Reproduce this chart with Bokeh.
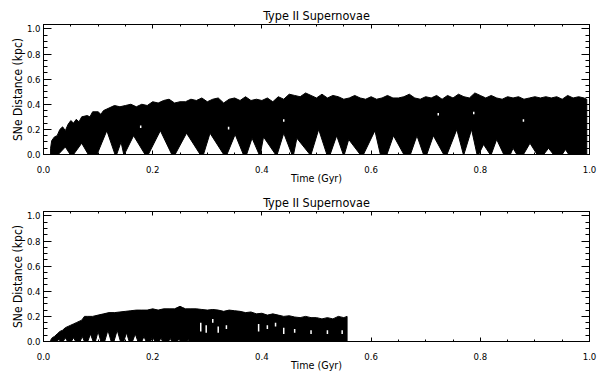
from bokeh.plotting import figure
from bokeh.layouts import column
from bokeh.models import Range1d, LinearAxis, SingleIntervalTicker, PrintfTickFormatter
from bokeh.embed import file_html
from bokeh.resources import INLINE

# ---------------- data ----------------
title_text = "Type II Supernovae"
x_label = "Time (Gyr)"
y_label = "SNe Distance (kpc)"

# Upper envelope of the dense SNe cloud, run 1 (Time in Gyr, distance in kpc)
top_t = [0.013, 0.015, 0.02, 0.025, 0.03, 0.035, 0.04, 0.045, 0.05, 0.055, 0.06, 0.065,
         0.07, 0.08, 0.085, 0.09, 0.1, 0.105, 0.11, 0.12, 0.13, 0.14, 0.15, 0.16, 0.17,
         0.18, 0.19, 0.2, 0.21, 0.22, 0.23, 0.24, 0.25, 0.26, 0.27, 0.28, 0.29, 0.3,
         0.31, 0.32, 0.33, 0.34, 0.35, 0.36, 0.37, 0.38, 0.39, 0.4, 0.41, 0.42, 0.43,
         0.44, 0.45, 0.46, 0.47, 0.48, 0.49, 0.5, 0.51, 0.52, 0.53, 0.54, 0.55, 0.56,
         0.57, 0.58, 0.59, 0.6, 0.61, 0.62, 0.63, 0.64, 0.65, 0.66, 0.67, 0.68, 0.69,
         0.7, 0.71, 0.72, 0.73, 0.74, 0.75, 0.76, 0.77, 0.78, 0.79, 0.8, 0.81, 0.82,
         0.83, 0.84, 0.85, 0.86, 0.87, 0.88, 0.89, 0.9, 0.91, 0.92, 0.93, 0.94, 0.95,
         0.96, 0.97, 0.98, 0.99, 0.995]
top_hi = [0.05, 0.11, 0.14, 0.15, 0.2, 0.22, 0.19, 0.24, 0.27, 0.25, 0.28, 0.26,
          0.3, 0.31, 0.3, 0.34, 0.34, 0.32, 0.35, 0.37, 0.39, 0.38, 0.39, 0.4, 0.38,
          0.4, 0.39, 0.42, 0.41, 0.43, 0.44, 0.41, 0.42, 0.42, 0.44, 0.43, 0.45, 0.42,
          0.44, 0.45, 0.41, 0.44, 0.45, 0.43, 0.46, 0.43, 0.44, 0.43, 0.45, 0.42, 0.46,
          0.44, 0.48, 0.47, 0.46, 0.49, 0.47, 0.45, 0.48, 0.45, 0.47, 0.46, 0.44, 0.45,
          0.47, 0.45, 0.44, 0.46, 0.44, 0.45, 0.47, 0.45, 0.45, 0.46, 0.48, 0.45, 0.44,
          0.46, 0.45, 0.47, 0.44, 0.47, 0.45, 0.48, 0.46, 0.45, 0.49, 0.47, 0.45, 0.47,
          0.45, 0.44, 0.46, 0.45, 0.46, 0.44, 0.45, 0.46, 0.45, 0.46, 0.45, 0.46, 0.44,
          0.47, 0.45, 0.46, 0.45, 0.44]
# Empty gaps rising from the bottom of the cloud, run 1:
# left foot (Gyr), tip (Gyr), right foot (Gyr), tip height (kpc)
top_gap_l = [0.027, 0.055, 0.098, 0.134, 0.148, 0.192, 0.241, 0.293, 0.336, 0.372,
             0.397, 0.428, 0.458, 0.49, 0.525, 0.551, 0.586, 0.629, 0.672, 0.702,
             0.739, 0.77, 0.797, 0.82, 0.855, 0.879, 0.916, 0.95]
top_gap_p = [0.04, 0.07, 0.116, 0.142, 0.165, 0.214, 0.262, 0.305, 0.351, 0.382,
             0.403, 0.44, 0.464, 0.504, 0.537, 0.559, 0.607, 0.641, 0.684, 0.714,
             0.757, 0.784, 0.806, 0.83, 0.86, 0.891, 0.925, 0.956]
top_gap_r = [0.049, 0.082, 0.131, 0.147, 0.186, 0.235, 0.287, 0.33, 0.366, 0.395,
             0.425, 0.455, 0.488, 0.519, 0.549, 0.58, 0.617, 0.66, 0.696, 0.733,
             0.769, 0.794, 0.818, 0.843, 0.867, 0.904, 0.934, 0.962]
top_gap_h = [0.06, 0.09, 0.19, 0.1, 0.15, 0.19, 0.17, 0.17, 0.16, 0.13,
             0.14, 0.17, 0.13, 0.2, 0.15, 0.12, 0.19, 0.15, 0.15, 0.15,
             0.2, 0.2, 0.08, 0.12, 0.05, 0.09, 0.05, 0.04]
# small holes inside the cloud, run 1: time, from, to
top_hole_t = [0.178, 0.339, 0.44, 0.723, 0.788, 0.879]
top_hole_a = [0.21, 0.2, 0.26, 0.31, 0.32, 0.26]
top_hole_b = [0.23, 0.22, 0.28, 0.33, 0.34, 0.28]

# Upper envelope, run 2
bot_t = [0.013, 0.016, 0.02, 0.025, 0.03, 0.035, 0.04, 0.045, 0.05, 0.055, 0.06, 0.065,
         0.07, 0.075, 0.08, 0.09, 0.1, 0.11, 0.12, 0.13, 0.14, 0.15, 0.16, 0.17, 0.18,
         0.19, 0.2, 0.21, 0.22, 0.23, 0.24, 0.25, 0.255, 0.26, 0.27, 0.28, 0.29, 0.3,
         0.31, 0.32, 0.33, 0.34, 0.35, 0.36, 0.37, 0.38, 0.39, 0.4, 0.41, 0.42, 0.43,
         0.44, 0.45, 0.46, 0.47, 0.48, 0.49, 0.5, 0.51, 0.52, 0.53, 0.54, 0.55, 0.556]
bot_hi = [0.01, 0.03, 0.04, 0.06, 0.08, 0.09, 0.11, 0.12, 0.13, 0.14, 0.15, 0.16,
          0.17, 0.2, 0.2, 0.2, 0.21, 0.22, 0.23, 0.23, 0.235, 0.24, 0.245, 0.25, 0.25,
          0.25, 0.26, 0.25, 0.26, 0.26, 0.26, 0.28, 0.27, 0.26, 0.26, 0.26, 0.255, 0.25,
          0.255, 0.25, 0.24, 0.25, 0.245, 0.24, 0.23, 0.235, 0.22, 0.225, 0.21, 0.22, 0.21,
          0.2, 0.205, 0.195, 0.19, 0.2, 0.19, 0.19, 0.18, 0.19, 0.18, 0.2, 0.19, 0.2]
bot_gap_p = [0.028, 0.04, 0.055, 0.071, 0.086, 0.1, 0.118, 0.135, 0.152, 0.168, 0.184,
             0.2, 0.215, 0.232, 0.248, 0.265]
bot_gap_h = [0.02, 0.03, 0.03, 0.04, 0.06, 0.08, 0.09, 0.09, 0.07, 0.06, 0.04,
             0.035, 0.03, 0.025, 0.02, 0.015]
bot_gap_l = [0.025, 0.036, 0.051, 0.067, 0.081, 0.095, 0.112, 0.129, 0.147, 0.163, 0.18,
             0.196, 0.212, 0.229, 0.245, 0.263]
bot_gap_r = [0.031, 0.044, 0.059, 0.075, 0.091, 0.105, 0.124, 0.141, 0.157, 0.173, 0.188,
             0.204, 0.218, 0.235, 0.251, 0.267]
bot_hole_t = [0.288, 0.298, 0.31, 0.32, 0.335, 0.394, 0.41, 0.425, 0.44, 0.46, 0.49, 0.52, 0.547]
bot_hole_a = [0.08, 0.07, 0.15, 0.07, 0.10, 0.08, 0.10, 0.12, 0.06, 0.07, 0.06, 0.06, 0.06]
bot_hole_b = [0.15, 0.13, 0.18, 0.12, 0.13, 0.14, 0.13, 0.15, 0.11, 0.10, 0.09, 0.09, 0.09]

FONT = "'Liberation Sans Narrow', 'DejaVu Sans Condensed', 'Liberation Sans', sans-serif"


def cloud_outline(t, hi, gl, gp, gr, gh):
    xs = list(t) + [t[-1]]
    ys = list(hi) + [0.0]
    for l, p, r, h in reversed(list(zip(gl, gp, gr, gh))):
        xs += [r, p, l]
        ys += [0.0, h, 0.0]
    xs.append(t[0])
    ys.append(0.0)
    return xs, ys


def style_axis(ax, labels, major_in, minor_in):
    ax.ticker = SingleIntervalTicker(interval=0.2, num_minor_ticks=4)
    ax.formatter = PrintfTickFormatter(format="%.1f")
    ax.axis_line_color = "black"
    ax.axis_line_width = 1
    ax.major_tick_line_color = "black"
    ax.minor_tick_line_color = "black"
    ax.major_tick_in = major_in
    ax.major_tick_out = 0
    ax.minor_tick_in = minor_in
    ax.minor_tick_out = 0
    ax.major_label_text_font = FONT
    ax.axis_label_text_font = FONT
    ax.axis_label_text_font_style = "normal"
    ax.axis_label_text_color = "black"
    if labels:
        ax.major_label_text_font_size = "9.5px"
        ax.major_label_text_color = "black"
    else:
        ax.major_label_text_font_size = "1px"
        ax.major_label_text_color = None
        ax.major_label_standoff = 0


def make_panel(height, top, bottom, t, hi, gl, gp, gr, gh, ht, ha, hb, tick_standoff, label_standoff):
    p = figure(width=601, height=height, x_range=Range1d(0, 1.0), y_range=Range1d(0, 1.035),
               output_backend="svg", toolbar_location=None,
               min_border_left=43, min_border_right=12, min_border_top=top, min_border_bottom=bottom,
               x_axis_label=x_label, y_axis_label=y_label)
    p.title.text = title_text
    p.title.align = "center"
    p.title.text_font = FONT
    p.title.text_font_size = "12.5px"
    p.title.text_font_style = "normal"
    p.title.text_color = "black"
    p.title.standoff = 3
    p.xgrid.visible = False
    p.ygrid.visible = False
    p.outline_line_color = "black"
    p.background_fill_color = "white"
    p.border_fill_color = "white"

    xs, ys = cloud_outline(t, hi, gl, gp, gr, gh)
    p.patch(xs, ys, fill_color="black", line_color="black", line_width=1)
    p.segment(x0=ht, y0=ha, x1=ht, y1=hb, line_color="white", line_width=1.5)

    style_axis(p.xaxis[0], True, 4, 2)
    p.xaxis[0].major_label_standoff = tick_standoff
    p.xaxis[0].axis_label_standoff = label_standoff
    p.xaxis[0].axis_label_text_font_size = "10.7px"
    style_axis(p.yaxis[0], True, 8, 4)
    p.yaxis[0].major_label_standoff = 3
    p.yaxis[0].axis_label_standoff = -1
    p.yaxis[0].axis_label_text_font_size = "12px"

    ax_top = LinearAxis()
    style_axis(ax_top, False, 4, 2)
    p.add_layout(ax_top, "above")
    ax_right = LinearAxis()
    style_axis(ax_right, False, 8, 4)
    p.add_layout(ax_right, "right")
    return p


p1 = make_panel(187, 24, 33, top_t, top_hi, top_gap_l, top_gap_p, top_gap_r, top_gap_h,
                top_hole_t, top_hole_a, top_hole_b, 11, -4)
p2 = make_panel(187, 24, 32, bot_t, bot_hi, bot_gap_l, bot_gap_p, bot_gap_r, bot_gap_h,
                bot_hole_t, bot_hole_a, bot_hole_b, 11, -4)

layout = column(p1, p2, spacing=0)
open("out.html", "w").write(file_html(layout, INLINE))
